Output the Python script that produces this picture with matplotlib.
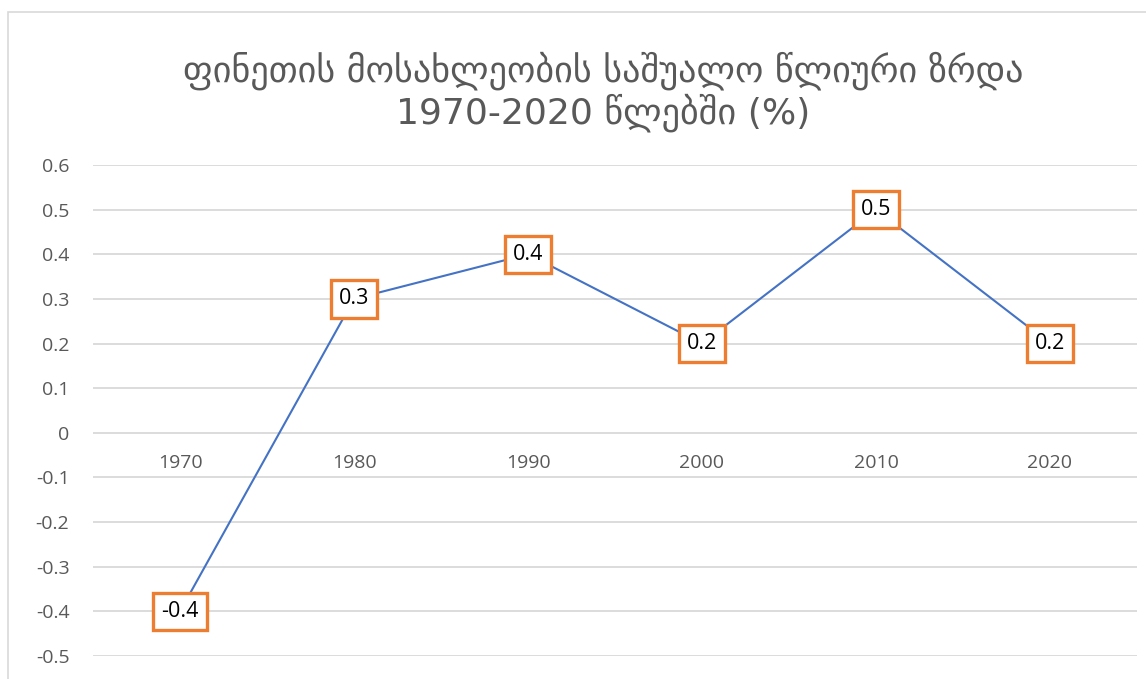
import matplotlib
matplotlib.use("Agg")
import matplotlib.pyplot as plt
from matplotlib.patches import Rectangle

years = ["1970", "1980", "1990", "2000", "2010", "2020"]
growth = [-0.4, 0.3, 0.4, 0.2, 0.5, 0.2]
y_ticks = [0.6, 0.5, 0.4, 0.3, 0.2, 0.1, 0, -0.1, -0.2, -0.3, -0.4, -0.5]
title_text = "ფინეთის მოსახლეობის საშუალო წლიური ზრდა\n1970-2020 წლებში (%)"

W, H = 1146, 679
fig = plt.figure(figsize=(W / 100, H / 100), dpi=100)
fig.patch.set_facecolor("white")

# chart border
fig.patches.append(Rectangle((8 / W, -0.1), 1.2, (H - 12) / H + 0.1,
                             transform=fig.transFigure, fill=False,
                             edgecolor="#d9d9d9", linewidth=1.2))

left, right, top, bottom = 93, 1137, 165, 656
ax = fig.add_axes([left / W, 1 - bottom / H, (right - left) / W, (bottom - top) / H])
ax.set_facecolor("none")

x = list(range(len(years)))
ax.plot(x, growth, color="#4472C4", linewidth=1.5, zorder=3)

for xi, v in zip(x, growth):
    ax.text(xi, v, f"{v:.1f}", ha="center", va="center", fontsize=15.5,
            family=["Open Sans", "DejaVu Sans"], color="black", zorder=5,
            bbox=dict(boxstyle="square,pad=0.38", facecolor="white",
                      edgecolor="#ED7D31", linewidth=2.4))

ax.set_xlim(-0.5, len(years) - 0.5)
ax.set_ylim(-0.5, 0.6)
ax.set_yticks(y_ticks)
ax.set_yticklabels([f"{t:g}" for t in y_ticks], fontsize=14,
                   family=["Open Sans", "DejaVu Sans"], color="#595959")
ax.tick_params(axis="y", length=0, pad=17)
ax.set_xticks([])
for s in ax.spines.values():
    s.set_visible(False)
for t in y_ticks:
    ax.axhline(t, color="#d9d9d9", linewidth=1.3, zorder=1)

# category labels next to the zero axis
for xi, lab in zip(x, years):
    ax.annotate(lab, xy=(xi, 0), xytext=(0, -15), textcoords="offset points",
                ha="center", va="top", fontsize=14,
                family=["Open Sans", "DejaVu Sans"], color="#595959")

fig.text(603 / W, 1 - 92 / H, title_text, ha="center", va="center", fontsize=26,
         family=["DejaVu Sans"], color="#595959", linespacing=1.1)

fig.savefig("out.png", dpi=100, facecolor="white")
